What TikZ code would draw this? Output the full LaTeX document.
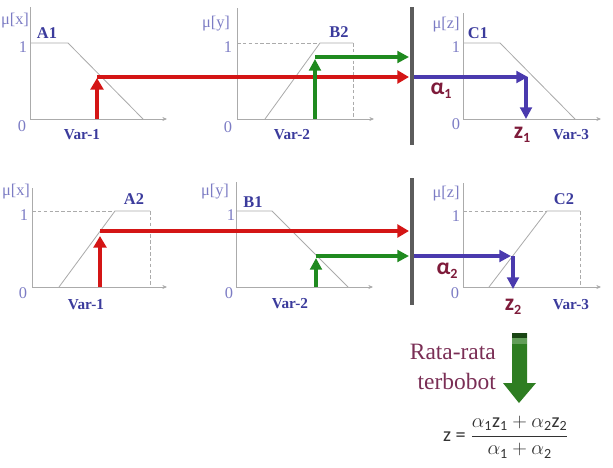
\documentclass[tikz,border=0pt]{standalone}
\usepackage{amsmath}
\usepackage{xcolor}
\usepackage{fontspec}
\setmainfont{Liberation Serif}
\newfontfamily\calib{Carlito}
\usetikzlibrary{arrows.meta}

\definecolor{axisgray}{HTML}{ABABAB}
\definecolor{lavtext}{HTML}{7C7CC4}
\definecolor{navytext}{HTML}{3B3B9C}
\definecolor{fzred}{HTML}{D41515}
\definecolor{fzgreen}{HTML}{1F8A1F}
\definecolor{fzblue}{HTML}{4A3AAE}
\definecolor{darkmaroon}{HTML}{7E1B3A}
\definecolor{ratacol}{HTML}{7A2E55}
\definecolor{bargray}{HTML}{5C5C5C}
\definecolor{arrgreen}{HTML}{2E7D22}

\newcommand{\lowsub}[1]{\raisebox{-0.35ex}{\fontsize{12}{12}\selectfont #1}}

\begin{document}
\begin{tikzpicture}[x=0.03cm,y=-0.03cm,
    axisline/.style={draw=axisgray,line width=0.6pt,-{Stealth[length=4pt,width=3.5pt]}},
    mfline/.style={draw=axisgray,line width=0.7pt},
    guideline/.style={draw=axisgray,line width=0.5pt,densely dashed},
    redarr/.style={draw=fzred,line width=3.6pt,-{Triangle[length=10pt,width=11pt]}},
    greenarr/.style={draw=fzgreen,line width=3.2pt,-{Triangle[length=10pt,width=10pt]}},
    bluearr/.style={draw=fzblue,line width=3.2pt,-{Triangle[length=10pt,width=10pt]}},
    mulabel/.style={text=lavtext,font=\fontsize{14}{16}\selectfont,inner sep=0pt},
    setlabel/.style={text=navytext,font=\bfseries\fontsize{14}{16}\selectfont,inner sep=0pt},
    varlabel/.style={text=navytext,font=\bfseries\fontsize{13}{15}\selectfont,inner sep=0pt},
    outlabel/.style={text=darkmaroon,font=\calib\bfseries\fontsize{20}{22}\selectfont,inner sep=0pt},
    bar/.style={draw=bargray,line width=4.2pt}
]
    \useasboundingbox (0,0) rectangle (613,467);

    % 第一行: A1 -- B2 -- C1
    \draw[axisline] (30,7) -- (30,119) -- (167,119);
    \draw[mfline] (30,43) -- (68,43) -- (143,119);
    \node[mulabel] (mux1) at (15,21) {μ[x]};
    \node[setlabel] (A1) at (47,33) {A1};
    \node[mulabel] (onex1) at (23,47) {1};
    \node[mulabel] (zerox1) at (22,126) {0};
    \node[varlabel] (varx1) at (82,135) {Var-1};

    \draw[axisline] (237,8) -- (237,119) -- (374,119);
    \draw[guideline] (237,43) -- (320,43);
    \draw[mfline] (265,119) -- (320,43) -- (353,43);
    \draw[guideline] (353,43) -- (353,119);
    \node[mulabel] (muy1) at (216,24) {μ[y]};
    \node[setlabel] (B2) at (339,32) {B2};
    \node[mulabel] (oney1) at (228,47) {1};
    \node[mulabel] (zeroy1) at (228,127) {0};
    \node[varlabel] (vary1) at (292,135) {Var-2};

    \draw[axisline] (463,13) -- (463,119) -- (601,119);
    \draw[mfline] (463,43) -- (500,43) -- (575,119);
    \node[mulabel] (muz1) at (446,25) {μ[z]};
    \node[setlabel] (C1) at (478,33) {C1};
    \node[mulabel] (onez1) at (456,47) {1};
    \node[mulabel] (zeroz1) at (456,124) {0};
    \node[varlabel] (varz1) at (571,135) {Var-3};

    % 分隔线
    \coordinate (bartop1) at (412,7);
    \coordinate (barbot1) at (412,145);
    \draw[bar] (bartop1) -- (barbot1);

    % 第一条规则的箭头
    \coordinate (inx1) at (97,119);
    \coordinate (cutx1) at (97,78);
    \coordinate (hx1) at (97,77);
    \coordinate (endx1) at (409,77);
    \draw[redarr] (inx1) -- (cutx1);
    \draw[redarr] (hx1) -- (endx1);

    \coordinate (iny1) at (315,119);
    \coordinate (cuty1) at (315,59);
    \coordinate (hy1) at (315,57);
    \coordinate (endy1) at (409,57);
    \draw[greenarr] (iny1) -- (cuty1);
    \draw[greenarr] (hy1) -- (endy1);

    \coordinate (alpha1) at (414,77);
    \coordinate (hitz1) at (528,77);
    \coordinate (topz1) at (526,77);
    \coordinate (outz1) at (526,119);
    \draw[bluearr] (alpha1) -- (hitz1);
    \draw[bluearr] (topz1) -- (outz1);
    \node[outlabel] (a1) at (441,91) {α\lowsub{1}};
    \node[outlabel] (z1) at (522,135) {z\lowsub{1}};

    % 第二行: A2 -- B1 -- C2
    \draw[axisline] (32,188) -- (32,287) -- (167,287);
    \draw[guideline] (32,211) -- (115,211);
    \draw[mfline] (59,287) -- (115,211) -- (150,211);
    \draw[guideline] (150,211) -- (150,287);
    \node[mulabel] (mux2) at (16,192) {μ[x]};
    \node[setlabel] (A2) at (134,199) {A2};
    \node[mulabel] (onex2) at (24,215) {1};
    \node[mulabel] (zerox2) at (23,293) {0};
    \node[varlabel] (varx2) at (86,305) {Var-1};

    \draw[axisline] (236,182) -- (236,287) -- (373,287);
    \draw[mfline] (236,211) -- (272,211) -- (348,287);
    \node[mulabel] (muy2) at (215,192) {μ[y]};
    \node[setlabel] (B1) at (253,202) {B1};
    \node[mulabel] (oney2) at (231,215) {1};
    \node[mulabel] (zeroy2) at (229,293) {0};
    \node[varlabel] (vary2) at (290,304) {Var-2};

    \draw[axisline] (463,183) -- (463,287) -- (601,287);
    \draw[guideline] (463,211) -- (547,211);
    \draw[mfline] (489,287) -- (547,211) -- (580,211);
    \draw[guideline] (580,211) -- (580,287);
    \node[mulabel] (muz2) at (446,194) {μ[z]};
    \node[setlabel] (C2) at (564,199) {C2};
    \node[mulabel] (onez2) at (456,216) {1};
    \node[mulabel] (zeroz2) at (455,293) {0};
    \node[varlabel] (varz2) at (571,305) {Var-3};

    \coordinate (bartop2) at (412,178);
    \coordinate (barbot2) at (412,305);
    \draw[bar] (bartop2) -- (barbot2);

    % 第二条规则的箭头
    \coordinate (inx2) at (100,287);
    \coordinate (cutx2) at (100,236);
    \coordinate (hx2) at (100,231);
    \coordinate (endx2) at (409,231);
    \draw[redarr] (inx2) -- (cutx2);
    \draw[redarr] (hx2) -- (endx2);

    \coordinate (iny2) at (316,287);
    \coordinate (cuty2) at (316,258);
    \coordinate (hy2) at (316,256);
    \coordinate (endy2) at (409,256);
    \draw[greenarr] (iny2) -- (cuty2);
    \draw[greenarr] (hy2) -- (endy2);

    \coordinate (alpha2) at (414,256);
    \coordinate (hitz2) at (511,256);
    \coordinate (topz2) at (513,256);
    \coordinate (outz2) at (513,289);
    \draw[bluearr] (alpha2) -- (hitz2);
    \draw[bluearr] (topz2) -- (outz2);
    \node[outlabel] (a2) at (447,271) {α\lowsub{2}};
    \node[outlabel] (z2) at (513,307) {z\lowsub{2}};

    % 加权平均
    \fill[arrgreen] (512,333) -- (527,333) -- (527,383) -- (536,383) -- (519,403)
        -- (503,383) -- (512,383) -- cycle;
    \fill[arrgreen!55!black] (512,333) rectangle (527,338);
    \fill[arrgreen!75!white] (512,338) rectangle (527,344);
    \node[anchor=east,align=right,text=ratacol,font=\fontsize{20}{25}\selectfont,inner sep=0pt]
        (rata) at (496,367) {Rata-rata\\terbobot};
    \node[inner sep=0pt,text=black!80] (zavg) at (506,437)
        {\calib\LARGE z = $\dfrac{\alpha_{\text{1}}\text{z}_{\text{1}}+\alpha_{\text{2}}\text{z}_{\text{2}}}{\alpha_{\text{1}}+\alpha_{\text{2}}}$};

\end{tikzpicture}
\end{document}
